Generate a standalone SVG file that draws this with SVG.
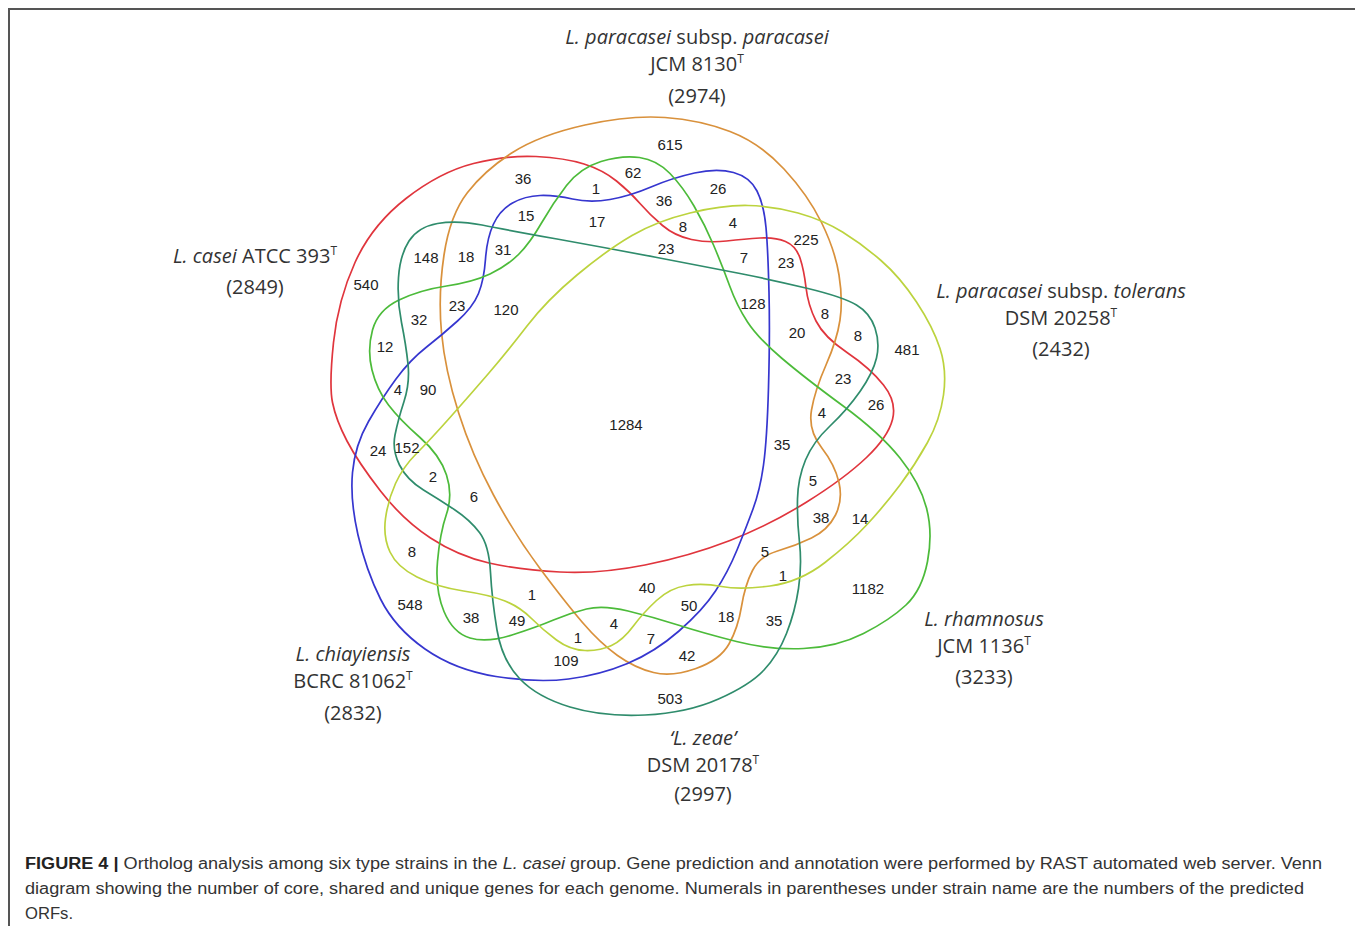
<svg xmlns="http://www.w3.org/2000/svg" width="1355" height="926" viewBox="0 0 1355 926">
<style>
.set{fill:none;stroke-width:1.7}
.n{font-family:"Liberation Sans",Arial,sans-serif;font-size:15px;fill:#222;text-anchor:middle}
.lab{font-family:"Open Sans","Liberation Sans",sans-serif;font-size:20px;fill:#333;text-anchor:middle}
.sup{font-size:12px}
.cap{font-family:"Liberation Sans",Arial,sans-serif;font-size:16px;fill:#333}
</style>
<rect width="1355" height="926" fill="#fff"/>
<g id="frame" stroke="#555" stroke-width="2" fill="none">
<path d="M1355,9 H9 V926"/>
</g>
<g id="connectors"></g>
<g id="set-casei">
<path class="set" stroke="#e0353d" d="M 332.5,402.5 Q 329,385 333.5,342.5 Q 338,300 355,262.5 Q 372,225 406,198.5 Q 440,172 473.5,163.5 Q 507,155 536,156.5 Q 565,158 584,164 Q 603,170 616.5,181 Q 630,192 640,203.5 Q 650,215 662.5,225.5 Q 675,236 691.5,239.5 Q 708,243 726.5,241 Q 745,239 760,238 Q 775,237 785.5,241.5 Q 796,246 800,258 Q 804,270 806,287.5 Q 808,305 816,321 Q 824,337 847,352.5 Q 870,368 883.5,385 Q 897,402 892.5,419.5 Q 888,437 866.5,457.5 Q 845,478 807.5,501.5 Q 770,525 730,540.5 Q 690,556 645,565 Q 600,574 560,572 Q 520,570 489,563 Q 458,556 430.5,538 Q 403,520 380.5,491 Q 358,462 347,441 Q 336,420 332.5,402.5 Z"/>
<text class="lab" x="255" y="263"><tspan font-style="italic">L. casei</tspan> ATCC 393<tspan class="sup" dy="-8">T</tspan></text>
<text class="lab" x="255" y="294">(2849)</text>
</g>
<g id="set-paracasei">
<path class="set" stroke="#d9913c" d="M 585,125 Q 630,115 665,117.5 Q 700,120 730,131.5 Q 760,143 784,169 Q 808,195 821.5,222.5 Q 835,250 839,275 Q 843,300 840,320 Q 837,340 826,365 Q 815,390 811.5,410 Q 808,430 821.5,447.5 Q 835,465 839,482.5 Q 843,500 835.5,515 Q 828,530 811.5,538 Q 795,546 777.5,551 Q 760,556 752.5,570.5 Q 745,585 741.5,606.5 Q 738,628 729,644 Q 720,660 696,668.5 Q 672,677 653.5,672.5 Q 635,668 617.5,655.5 Q 600,643 582.5,622.5 Q 565,602 540,568.5 Q 515,535 493.5,495 Q 472,455 458.5,412.5 Q 445,370 441.5,332.5 Q 438,295 444,255 Q 450,215 467.5,192.5 Q 485,170 512.5,152.5 Q 540,135 585,125 Z"/>
<text class="lab" x="697" y="44"><tspan font-style="italic">L. paracasei</tspan> subsp. <tspan font-style="italic">paracasei</tspan></text>
<text class="lab" x="697" y="71">JCM 8130<tspan class="sup" dy="-8">T</tspan></text>
<text class="lab" x="697" y="103">(2974)</text>
</g>
<g id="set-chiayiensis">
<path class="set" stroke="#3636cf" d="M 457.5,321 Q 473,307 478.5,293.5 Q 484,280 485.5,259 Q 487,238 493.5,224 Q 500,210 512.5,203 Q 525,196 540,195.5 Q 555,195 572.5,199 Q 590,203 610,199.5 Q 630,196 651,187 Q 672,178 694.5,173 Q 717,168 733.5,172.5 Q 750,177 757,191 Q 764,205 766,227.5 Q 768,250 769,292.5 Q 770,335 768.5,387.5 Q 767,440 763.5,465 Q 760,490 753,509 Q 746,528 737,550 Q 728,572 715.5,591 Q 703,610 679,631 Q 655,652 627.5,663.5 Q 600,675 568.5,679 Q 537,683 496,676.5 Q 455,670 425,649 Q 395,628 380.5,599 Q 366,570 358,535 Q 350,500 352.5,472.5 Q 355,445 368.5,421.5 Q 382,398 396,379 Q 410,360 426,347.5 Q 442,335 457.5,321 Z"/>
<text class="lab" x="353" y="661" font-style="italic">L. chiayiensis</text>
<text class="lab" x="353" y="688">BCRC 81062<tspan class="sup" dy="-8">T</tspan></text>
<text class="lab" x="353" y="720">(2832)</text>
</g>
<g id="set-rhamnosus">
<path class="set" stroke="#4cbb3a" d="M 372,370 Q 367,350 372.5,330 Q 378,310 399,300 Q 420,290 446.5,286 Q 473,282 490,274 Q 507,266 518.5,254.5 Q 530,243 541.5,223 Q 553,203 566.5,185.5 Q 580,168 601,161.5 Q 622,155 639.5,157.5 Q 657,160 670,173.5 Q 683,187 694,206 Q 705,225 713.5,245 Q 722,265 729.5,285.5 Q 737,306 747.5,322 Q 758,338 781.5,358 Q 805,378 842.5,405.5 Q 880,433 900,458 Q 920,483 926.5,508 Q 933,533 927.5,561.5 Q 922,590 906,605 Q 890,620 863.5,633.5 Q 837,647 803.5,648.5 Q 770,650 736.5,641.5 Q 703,633 678,625 Q 653,617 628,611 Q 603,605 586.5,609 Q 570,613 553.5,620 Q 537,627 512,635 Q 487,643 470,638 Q 453,633 444,611.5 Q 435,590 437.5,561.5 Q 440,533 446.5,514 Q 453,495 446.5,475 Q 440,455 420,437.5 Q 400,420 388.5,405 Q 377,390 372,370 Z"/>
<text class="lab" x="984" y="626" font-style="italic">L. rhamnosus</text>
<text class="lab" x="984" y="653">JCM 1136<tspan class="sup" dy="-8">T</tspan></text>
<text class="lab" x="984" y="684">(3233)</text>
</g>
<g id="set-zeae">
<path class="set" stroke="#2f8c6c" d="M 401.5,322.5 Q 397,300 398.5,277.5 Q 400,255 409,241 Q 418,227 437.5,223.5 Q 457,220 482,225 Q 507,230 557,239 Q 607,248 657,257.5 Q 707,267 740,273.5 Q 773,280 808,288.5 Q 843,297 856.5,305 Q 870,313 875,328 Q 880,343 876.5,358 Q 873,373 860,391.5 Q 847,410 830,426 Q 813,442 805.5,460 Q 798,478 797.5,499 Q 797,520 799.5,542.5 Q 802,565 798.5,588.5 Q 795,612 786.5,633.5 Q 778,655 764,670 Q 750,685 718.5,699 Q 687,713 645,715 Q 603,717 570,707 Q 537,697 519.5,678.5 Q 502,660 497,630 Q 492,600 490.5,572.5 Q 489,545 479.5,532.5 Q 470,520 455,510 Q 440,500 423.5,490 Q 407,480 399.5,465 Q 392,450 395,435 Q 398,420 404,401.5 Q 410,383 408,364 Q 406,345 401.5,322.5 Z"/>
<text class="lab" x="703" y="745" font-style="italic">‘L. zeae’</text>
<text class="lab" x="703" y="772">DSM 20178<tspan class="sup" dy="-8">T</tspan></text>
<text class="lab" x="703" y="801">(2997)</text>
</g>
<g id="set-tolerans">
<path class="set" stroke="#bcd33e" d="M 395.5,483.5 Q 403,467 416.5,453.5 Q 430,440 450,417.5 Q 470,395 488.5,373.5 Q 507,352 527,326 Q 547,300 577,275 Q 607,250 632,235.5 Q 657,221 690,213 Q 723,205 748,205.5 Q 773,206 798,213 Q 823,220 842.5,232 Q 862,244 881,260.5 Q 900,277 916.5,302 Q 933,327 940,348.5 Q 947,370 943.5,395 Q 940,420 927.5,442.5 Q 915,465 900,485 Q 885,505 867.5,524 Q 850,543 825,562.5 Q 800,582 770,586 Q 740,590 721.5,586.5 Q 703,583 686.5,585.5 Q 670,588 656.5,600.5 Q 643,613 633,626.5 Q 623,640 611.5,645.5 Q 600,651 585,650.5 Q 570,650 556.5,640 Q 543,630 531.5,618.5 Q 520,607 505,601 Q 490,595 463.5,591 Q 437,587 417,577 Q 397,567 390,552 Q 383,537 385.5,518.5 Q 388,500 395.5,483.5 Z"/>
<text class="lab" x="1061" y="298"><tspan font-style="italic">L. paracasei</tspan> subsp. <tspan font-style="italic">tolerans</tspan></text>
<text class="lab" x="1061" y="325">DSM 20258<tspan class="sup" dy="-8">T</tspan></text>
<text class="lab" x="1061" y="356">(2432)</text>
</g>
<g id="counts">
<text class="n" x="670" y="149.5">615</text>
<text class="n" x="523" y="183.5">36</text>
<text class="n" x="596" y="193.5">1</text>
<text class="n" x="633" y="177.5">62</text>
<text class="n" x="718" y="193.5">26</text>
<text class="n" x="664" y="205.5">36</text>
<text class="n" x="526" y="220.5">15</text>
<text class="n" x="597" y="226.5">17</text>
<text class="n" x="683" y="231.5">8</text>
<text class="n" x="733" y="227.5">4</text>
<text class="n" x="666" y="253.5">23</text>
<text class="n" x="744" y="262.5">7</text>
<text class="n" x="806" y="244.5">225</text>
<text class="n" x="786" y="267.5">23</text>
<text class="n" x="426" y="262.5">148</text>
<text class="n" x="466" y="261.5">18</text>
<text class="n" x="503" y="254.5">31</text>
<text class="n" x="366" y="289.5">540</text>
<text class="n" x="419" y="324.5">32</text>
<text class="n" x="457" y="310.5">23</text>
<text class="n" x="506" y="314.5">120</text>
<text class="n" x="753" y="308.5">128</text>
<text class="n" x="825" y="318.5">8</text>
<text class="n" x="858" y="340.5">8</text>
<text class="n" x="797" y="337.5">20</text>
<text class="n" x="907" y="354.5">481</text>
<text class="n" x="385" y="351.5">12</text>
<text class="n" x="398" y="394.5">4</text>
<text class="n" x="428" y="394.5">90</text>
<text class="n" x="843" y="383.5">23</text>
<text class="n" x="876" y="409.5">26</text>
<text class="n" x="822" y="417.5">4</text>
<text class="n" x="626" y="429.5">1284</text>
<text class="n" x="782" y="449.5">35</text>
<text class="n" x="378" y="455.5">24</text>
<text class="n" x="407" y="452.5">152</text>
<text class="n" x="433" y="481.5">2</text>
<text class="n" x="474" y="501.5">6</text>
<text class="n" x="813" y="485.5">5</text>
<text class="n" x="821" y="522.5">38</text>
<text class="n" x="860" y="523.5">14</text>
<text class="n" x="765" y="556.5">5</text>
<text class="n" x="412" y="556.5">8</text>
<text class="n" x="783" y="580.5">1</text>
<text class="n" x="868" y="593.5">1182</text>
<text class="n" x="410" y="609.5">548</text>
<text class="n" x="532" y="599.5">1</text>
<text class="n" x="647" y="592.5">40</text>
<text class="n" x="689" y="610.5">50</text>
<text class="n" x="726" y="621.5">18</text>
<text class="n" x="774" y="625.5">35</text>
<text class="n" x="471" y="622.5">38</text>
<text class="n" x="517" y="625.5">49</text>
<text class="n" x="614" y="628.5">4</text>
<text class="n" x="578" y="642.5">1</text>
<text class="n" x="651" y="643.5">7</text>
<text class="n" x="687" y="660.5">42</text>
<text class="n" x="566" y="665.5">109</text>
<text class="n" x="670" y="703.5">503</text>
</g>
<g id="caption">
<text class="cap" x="25" y="869" textLength="1297" lengthAdjust="spacingAndGlyphs"><tspan font-weight="bold" fill="#222">FIGURE 4 |</tspan> Ortholog analysis among six type strains in the <tspan font-style="italic">L. casei</tspan> group. Gene prediction and annotation were performed by RAST automated web server. Venn</text>
<text class="cap" x="25" y="894" textLength="1279" lengthAdjust="spacingAndGlyphs">diagram showing the number of core, shared and unique genes for each genome. Numerals in parentheses under strain name are the numbers of the predicted</text>
<text class="cap" x="25" y="919" textLength="48" lengthAdjust="spacingAndGlyphs">ORFs.</text>
</g>
</svg>
